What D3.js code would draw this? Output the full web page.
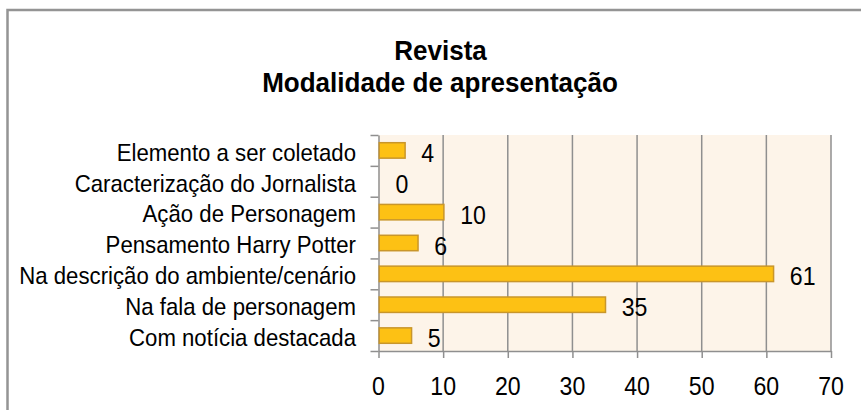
<!DOCTYPE html>
<html>
<head>
<meta charset="utf-8">
<script src="https://cdn.jsdelivr.net/npm/d3@7"></script>
<style>
  body { margin: 0; background: #fff; }
  svg { display: block; font-family: 'Liberation Sans', Arial, sans-serif; }
</style>
</head>
<body>
<svg width="861" height="410"></svg>
<script>
const categories = [
  'Elemento a ser coletado',
  'Caracterização do Jornalista',
  'Ação de Personagem',
  'Pensamento Harry Potter',
  'Na descrição do ambiente/cenário',
  'Na fala de personagem',
  'Com notícia destacada'
];
const values = [4, 0, 10, 6, 61, 35, 5];
const xTicks = [0, 10, 20, 30, 40, 50, 60, 70];
const titleLines = ['Revista', 'Modalidade de apresentação'];

const svg = d3.select('svg');
const plot = { left: 378.5, right: 831, top: 135, bottom: 351 };
const gray = '#8f8f8f';

// narrow-looking text: place with a transform and squeeze horizontally
const label = (g, x, y, txt, size, anchor, weight, sx) => g.append('text')
  .attr('transform', `translate(${x},${y}) scale(${sx || 0.925},1)`)
  .attr('text-anchor', anchor)
  .attr('font-size', size)
  .attr('font-weight', weight || 'normal')
  .attr('fill', '#000')
  .text(txt);

// outer frame (runs off the right and bottom edges)
svg.append('rect')
  .attr('x', 7.5).attr('y', 10)
  .attr('width', 900).attr('height', 450)
  .attr('fill', 'none')
  .attr('stroke', '#949494')
  .attr('stroke-width', 2.5);

const x = d3.scaleLinear().domain([0, 70]).range([plot.left, plot.right]);
const y = d3.scaleBand().domain(categories).range([plot.top, plot.bottom])
  .paddingInner(0.5).paddingOuter(0.25);
const yEdge = d3.scaleLinear().domain([0, categories.length]).range([plot.top, plot.bottom]);

const rows = categories.map((c, i) => ({ cat: c, val: values[i] }));

// plot background
svg.append('rect')
  .attr('x', plot.left).attr('y', plot.top)
  .attr('width', plot.right - plot.left).attr('height', plot.bottom - plot.top)
  .attr('fill', '#fdf4e9');

// vertical gridlines
svg.append('g')
  .selectAll('line')
  .data(xTicks.slice(1))
  .enter()
  .append('line')
    .attr('x1', d => x(d)).attr('x2', d => x(d))
    .attr('y1', plot.top).attr('y2', plot.bottom)
    .attr('stroke', gray)
    .attr('stroke-width', 1.5);

// bottom axis
const xAxis = svg.append('g')
  .attr('transform', `translate(0,${plot.bottom})`)
  .call(d3.axisBottom(x).tickValues(xTicks).tickSize(7).tickSizeOuter(0).tickFormat(''));
xAxis.select('.domain').attr('stroke', gray).attr('stroke-width', 1.5);
xAxis.selectAll('.tick line').attr('stroke', gray).attr('stroke-width', 1.5);

xTicks.forEach(t => label(svg, x(t), 395, t, 25, 'middle'));

// left axis, ticks on category boundaries
const yAxis = svg.append('g')
  .attr('transform', `translate(${plot.left},0)`)
  .call(d3.axisLeft(yEdge).tickValues(d3.range(categories.length + 1)).tickSize(8).tickSizeOuter(0).tickFormat(''));
yAxis.select('.domain').attr('stroke', gray).attr('stroke-width', 1.5);
yAxis.selectAll('.tick line').attr('stroke', gray).attr('stroke-width', 1.5);

categories.forEach(c => label(svg, 356, y(c) + y.bandwidth() / 2 + 10.3, c, 24, 'end'));

// bars
svg.append('g')
  .selectAll('rect')
  .data(rows.filter(d => d.val > 0))
  .enter()
  .append('rect')
    .attr('x', x(0) + 0.75)
    .attr('y', d => y(d.cat))
    .attr('width', d => x(d.val) - x(0))
    .attr('height', y.bandwidth())
    .attr('fill', '#fdc114')
    .attr('stroke', '#c9962a')
    .attr('stroke-width', 1.5);

// value labels
rows.forEach(d => {
  label(svg, x(d.val) + 17, y(d.cat) + y.bandwidth() / 2 + 11.5, d.val, 25, 'start');
});

// title
label(svg, 440.5, 59.5, titleLines[0], 28, 'middle', 'bold', 0.93);
label(svg, 440, 91.7, titleLines[1], 28, 'middle', 'bold', 0.93);
</script>
</body>
</html>
